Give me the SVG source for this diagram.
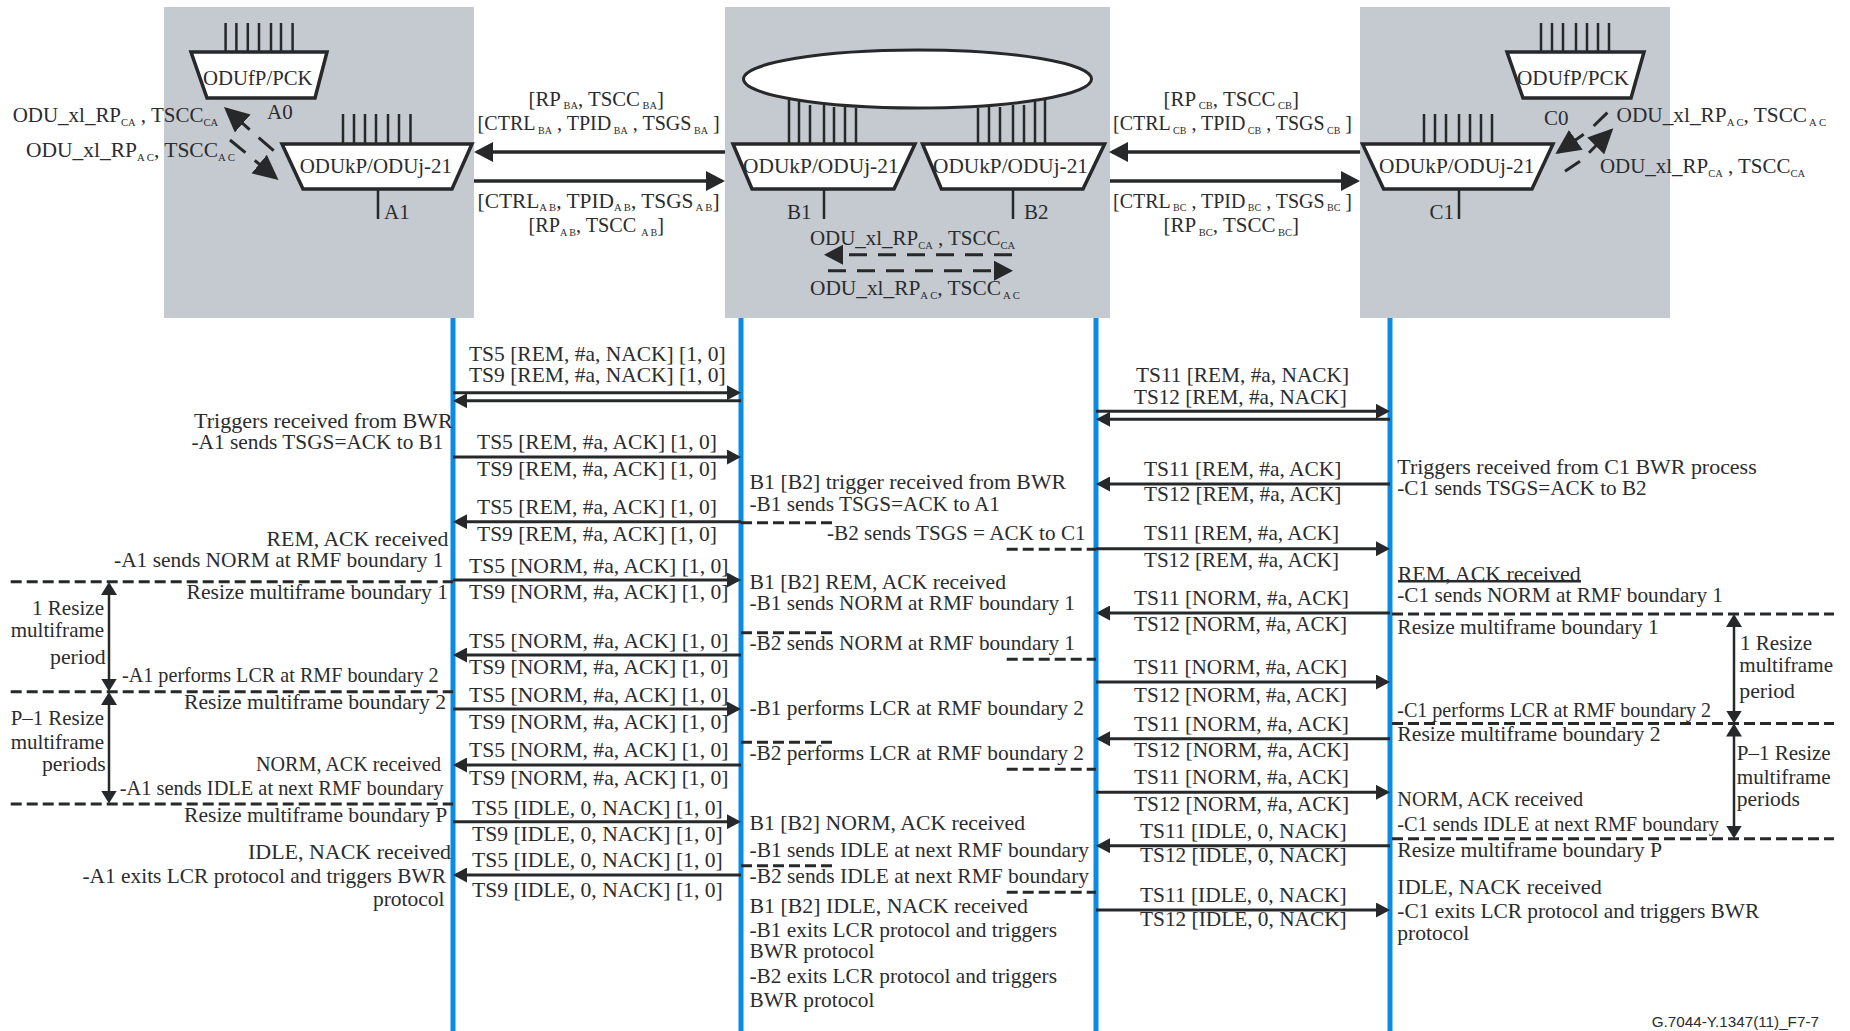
<svg xmlns="http://www.w3.org/2000/svg" width="1850" height="1031" viewBox="0 0 1850 1031">
<style>
text{font-family:"Liberation Serif","Times New Roman",serif;font-size:21px;fill:#2a2c2e}
text.t{font-size:22px}
tspan.s{font-size:10.500px}
.box{fill:#c5cad1}
.tz{fill:#fff;stroke:#26282a;stroke-width:3.5}
.pin{stroke:#26282a;stroke-width:2.5;fill:none}
.life{stroke:#0a8be4;stroke-width:5;fill:none}
.big{stroke:#26282a;stroke-width:3.5;fill:none;marker-end:url(#big)}
.sm{stroke:#26282a;stroke-width:3;fill:none;marker-end:url(#sm)}
.dash{stroke:#26282a;stroke-width:3;fill:none;stroke-dasharray:11 5}
.dbl{stroke:#26282a;stroke-width:2.5;fill:none;marker-start:url(#db);marker-end:url(#db)}
.dd{stroke:#26282a;stroke-width:3;fill:none;stroke-dasharray:18 11;marker-end:url(#big)}
.dg{stroke:#26282a;stroke-width:3;fill:none;stroke-dasharray:20 12;marker-end:url(#diag)}
.dgs{stroke:#26282a;stroke-width:3;fill:none;marker-end:url(#diag)}
.seg{stroke:#26282a;stroke-width:3;fill:none}
</style>
<defs>
<marker id="big" markerUnits="userSpaceOnUse" markerWidth="20" markerHeight="20" viewBox="0 0 19 20" refX="16" refY="10" orient="auto"><path d="M0 0L19 10L0 20Z" fill="#26282a"/></marker>
<marker id="diag" markerUnits="userSpaceOnUse" markerWidth="25" markerHeight="24" viewBox="0 0 25 24" refX="22" refY="12" orient="auto"><path d="M0 0L25 12L0 24Z" fill="#26282a"/></marker>
<marker id="sm" markerUnits="userSpaceOnUse" markerWidth="14" markerHeight="15" viewBox="0 0 14 15" refX="11" refY="7.5" orient="auto"><path d="M0 0L14 7.5L0 15Z" fill="#26282a"/></marker>
<marker id="db" markerUnits="userSpaceOnUse" markerWidth="13" markerHeight="16" viewBox="0 0 13 16" refX="10" refY="8" orient="auto-start-reverse"><path d="M0 0L13 8L0 16Z" fill="#26282a"/></marker>
</defs>

<g id="node-A">
<rect class="box" x="164" y="7" width="310" height="311"/>
<polygon class="tz" points="191,52 327,52 315,98 207,98"/>
<path class="pin" d="M225.6 23V52M236.4 23V52M247.8 23V52M259 23V52M271 23V52M281 23V52M292.6 23V52"/>
<polygon class="tz" points="282,144 472,144 452,189 303,189"/>
<path class="pin" d="M343 114V144M354 114V144M365 114V144M376 114V144M388 114V144M399 114V144M410.5 114V144M378 189V219"/>
<text class="t" x="203" y="85" textLength="109.500" lengthAdjust="spacingAndGlyphs">ODUfP/PCK</text>
<text x="267" y="119">A0</text>
<text class="t" x="299.700" y="172.700" textLength="152.300" lengthAdjust="spacingAndGlyphs">ODUkP/ODUj-21</text>
<text x="384" y="219">A1</text>
</g>

<g id="node-B">
<rect class="box" x="725" y="7" width="385" height="311"/>
<path class="pin" d="M789 100V144M799 100V144M810 105V144M824 105V144M834 107V144M845 107V144M856 108V144M978 108V144M989 107V144M1000 107V144M1013 105V144M1024 105V144M1035 100V144M1045 100V144"/>
<ellipse cx="917.500" cy="79" rx="174" ry="29" fill="#fff" stroke="#26282a" stroke-width="3"/>
<polygon class="tz" points="733,144 915,144 894,189 752,189"/>
<polygon class="tz" points="922.500,144 1104.600,144 1083,189 941.400,189"/>
<path class="pin" d="M824 189V219M1013 189V219"/>
<text class="t" x="743" y="172.700" textLength="155.600" lengthAdjust="spacingAndGlyphs">ODUkP/ODUj-21</text>
<text class="t" x="933" y="172.700" textLength="155" lengthAdjust="spacingAndGlyphs">ODUkP/ODUj-21</text>
<text x="787" y="219">B1</text>
<text x="1024" y="219">B2</text>
</g>

<g id="node-C">
<rect class="box" x="1360" y="7" width="310" height="311"/>
<polygon class="tz" points="1507,52 1644,52 1631,98 1523,98"/>
<path class="pin" d="M1541 23V52M1552 23V52M1563 23V52M1576 23V52M1587 23V52M1598 23V52M1609 23V52"/>
<polygon class="tz" points="1362.500,144 1553,144 1532,189 1383.600,189"/>
<path class="pin" d="M1424 114V144M1435 114V144M1446 114V144M1459 114V144M1470 114V144M1481 114V144M1492 114V144M1459 189V219"/>
<text class="t" x="1517" y="85" textLength="112" lengthAdjust="spacingAndGlyphs">ODUfP/PCK</text>
<text x="1544" y="125">C0</text>
<text class="t" x="1379" y="172.700" textLength="155.500" lengthAdjust="spacingAndGlyphs">ODUkP/ODUj-21</text>
<text x="1429.500" y="219">C1</text>
</g>

<g id="connectors">
<path class="life" d="M453 318V1031M741 318V1031M1096 318V1031M1390 318V1031"/>
<line class="big" x1="725" y1="152" x2="477" y2="152"/>
<line class="big" x1="474" y1="181" x2="722" y2="181"/>
<line class="big" x1="1360" y1="152" x2="1112" y2="152"/>
<line class="big" x1="1110" y1="181" x2="1357" y2="181"/>
<line class="dg" x1="273.700" y1="150.700" x2="226.200" y2="109"/>
<line class="dg" x1="230" y1="140" x2="276.200" y2="178"/>
<line class="seg" x1="1607.400" y1="112.700" x2="1593.700" y2="126"/>
<line class="dgs" x1="1583.700" y1="134.300" x2="1557.800" y2="152.400"/>
<line class="seg" x1="1565" y1="171.300" x2="1580" y2="161.300"/>
<line class="dgs" x1="1589" y1="152.700" x2="1611.200" y2="130.300"/>
<line class="dd" x1="1012" y1="254.700" x2="827" y2="254.700"/>
<line class="dd" x1="828" y1="270.700" x2="1010" y2="270.700"/>

<path class="sm" d="M453 392.700H738"/><path class="sm" d="M741 400.700H456"/>
<path class="sm" d="M453 457H738"/><path class="sm" d="M741 521.700H456"/>
<path class="sm" d="M453 580H738"/><path class="sm" d="M741 655H456"/>
<path class="sm" d="M453 709H738"/><path class="sm" d="M741 765H456"/>
<path class="sm" d="M453 821.700H738"/><path class="sm" d="M741 875H456"/>
<path class="sm" d="M1096 411.300H1387"/><path class="sm" d="M1390 419.300H1099"/>
<path class="sm" d="M1390 484H1099"/><path class="sm" d="M1096 548.700H1387"/>
<path class="sm" d="M1390 613H1099"/><path class="sm" d="M1096 682H1387"/>
<path class="sm" d="M1390 738.700H1099"/><path class="sm" d="M1096 792.300H1387"/>
<path class="sm" d="M1390 845.700H1099"/><path class="sm" d="M1096 910H1387"/>

<path class="dash" d="M10.700 581.700H453M10.700 691.700H453M10.700 804H453"/>
<path class="dash" d="M741 522.700H834M741 632.700H834M741 742.300H834M741 865.700H834"/>
<path class="dash" d="M1006.700 549.300H1096M1006.700 659.300H1096M1006.700 769.300H1096M1006.700 892.300H1096"/>
<path class="dash" d="M1392 614H1834M1392 723.500H1834M1392 838.800H1834"/>
<line class="dbl" x1="109" y1="585" x2="109" y2="688.500"/>
<line class="dbl" x1="109" y1="695" x2="109" y2="800.500"/>
<line class="dbl" x1="1734" y1="617" x2="1734" y2="720.500"/>
<line class="dbl" x1="1734" y1="726.500" x2="1734" y2="835.500"/>
<path d="M1398 581.300H1581" stroke="#26282a" stroke-width="2.500" fill="none"/>
</g>

<g id="labels">
<text x="12.700" y="122" textLength="205.300" lengthAdjust="spacingAndGlyphs">ODU_xl_RP<tspan class="s" dy="4">CA</tspan><tspan dy="-4"> , TSCC</tspan><tspan class="s" dy="4">CA</tspan></text>
<text x="26" y="157" textLength="209" lengthAdjust="spacingAndGlyphs">ODU_xl_RP<tspan class="s" dy="4">A C</tspan><tspan dy="-4">, TSCC</tspan><tspan class="s" dy="4">A C</tspan></text>
<text x="528.500" y="106" textLength="135.500" lengthAdjust="spacingAndGlyphs">[RP<tspan class="s" dy="3"> BA</tspan><tspan dy="-3">, TSCC</tspan><tspan class="s" dy="3"> BA</tspan><tspan dy="-3">]</tspan></text>
<text x="477.600" y="130" textLength="242" lengthAdjust="spacingAndGlyphs">[CTRL<tspan class="s" dy="4"> BA</tspan><tspan dy="-4"> , TPID</tspan><tspan class="s" dy="4"> BA</tspan><tspan dy="-4"> , TSGS</tspan><tspan class="s" dy="4"> BA</tspan><tspan dy="-4"> ]</tspan></text>
<text x="477.600" y="208" textLength="242" lengthAdjust="spacingAndGlyphs">[CTRL<tspan class="s" dy="3">A B</tspan><tspan dy="-3">, TPID</tspan><tspan class="s" dy="3">A B</tspan><tspan dy="-3">, TSGS</tspan><tspan class="s" dy="3"> A B</tspan><tspan dy="-3">]</tspan></text>
<text x="528.500" y="231.500" textLength="135.500" lengthAdjust="spacingAndGlyphs">[RP<tspan class="s" dy="4">A B</tspan><tspan dy="-4">, TSCC </tspan><tspan class="s" dy="4">A B</tspan><tspan dy="-4">]</tspan></text>
<text x="810" y="245" textLength="205" lengthAdjust="spacingAndGlyphs">ODU_xl_RP<tspan class="s" dy="4">CA</tspan><tspan dy="-4"> , TSCC</tspan><tspan class="s" dy="4">CA</tspan></text>
<text x="810" y="294.700" textLength="210" lengthAdjust="spacingAndGlyphs">ODU_xl_RP<tspan class="s" dy="4">A C</tspan><tspan dy="-4">, TSCC</tspan><tspan class="s" dy="4"> A C</tspan></text>
<text x="1163.600" y="106" textLength="135.400" lengthAdjust="spacingAndGlyphs">[RP<tspan class="s" dy="3"> CB</tspan><tspan dy="-3">, TSCC</tspan><tspan class="s" dy="3"> CB</tspan><tspan dy="-3">]</tspan></text>
<text x="1113" y="130" textLength="239" lengthAdjust="spacingAndGlyphs">[CTRL<tspan class="s" dy="4"> CB</tspan><tspan dy="-4"> , TPID</tspan><tspan class="s" dy="4"> CB</tspan><tspan dy="-4"> , TSGS</tspan><tspan class="s" dy="4"> CB</tspan><tspan dy="-4"> ]</tspan></text>
<text x="1113" y="208" textLength="239" lengthAdjust="spacingAndGlyphs">[CTRL<tspan class="s" dy="3"> BC</tspan><tspan dy="-3"> , TPID</tspan><tspan class="s" dy="3"> BC</tspan><tspan dy="-3"> , TSGS</tspan><tspan class="s" dy="3"> BC</tspan><tspan dy="-3"> ]</tspan></text>
<text x="1163.600" y="231.500" textLength="135.400" lengthAdjust="spacingAndGlyphs">[RP<tspan class="s" dy="4"> BC</tspan><tspan dy="-4">, TSCC</tspan><tspan class="s" dy="4"> BC</tspan><tspan dy="-4">]</tspan></text>
<text x="1616.600" y="122" textLength="209.400" lengthAdjust="spacingAndGlyphs">ODU_xl_RP<tspan class="s" dy="4">A C</tspan><tspan dy="-4">, TSCC</tspan><tspan class="s" dy="4"> A C</tspan></text>
<text x="1600" y="173" textLength="205" lengthAdjust="spacingAndGlyphs">ODU_xl_RP<tspan class="s" dy="4">CA</tspan><tspan dy="-4"> , TSCC</tspan><tspan class="s" dy="4">CA</tspan></text>

<text x="469" y="361" textLength="256.600" lengthAdjust="spacingAndGlyphs">TS5 [REM, #a, NACK] [1, 0]</text>
<text x="469" y="382" textLength="256.600" lengthAdjust="spacingAndGlyphs">TS9 [REM, #a, NACK] [1, 0]</text>
<text x="477" y="449" textLength="240" lengthAdjust="spacingAndGlyphs">TS5 [REM, #a, ACK] [1, 0]</text>
<text x="477" y="476" textLength="240" lengthAdjust="spacingAndGlyphs">TS9 [REM, #a, ACK] [1, 0]</text>
<text x="477" y="514" textLength="240" lengthAdjust="spacingAndGlyphs">TS5 [REM, #a, ACK] [1, 0]</text>
<text x="477" y="540.700" textLength="240" lengthAdjust="spacingAndGlyphs">TS9 [REM, #a, ACK] [1, 0]</text>
<text x="469" y="573" textLength="259.500" lengthAdjust="spacingAndGlyphs">TS5 [NORM, #a, ACK] [1, 0]</text>
<text x="469" y="599" textLength="259.500" lengthAdjust="spacingAndGlyphs">TS9 [NORM, #a, ACK] [1, 0]</text>
<text x="469" y="648" textLength="259.500" lengthAdjust="spacingAndGlyphs">TS5 [NORM, #a, ACK] [1, 0]</text>
<text x="469" y="674" textLength="259.500" lengthAdjust="spacingAndGlyphs">TS9 [NORM, #a, ACK] [1, 0]</text>
<text x="469" y="701.500" textLength="259.500" lengthAdjust="spacingAndGlyphs">TS5 [NORM, #a, ACK] [1, 0]</text>
<text x="469" y="729" textLength="259.500" lengthAdjust="spacingAndGlyphs">TS9 [NORM, #a, ACK] [1, 0]</text>
<text x="469" y="757" textLength="259.500" lengthAdjust="spacingAndGlyphs">TS5 [NORM, #a, ACK] [1, 0]</text>
<text x="469" y="784.700" textLength="259.500" lengthAdjust="spacingAndGlyphs">TS9 [NORM, #a, ACK] [1, 0]</text>
<text x="472" y="814.700" textLength="250.700" lengthAdjust="spacingAndGlyphs">TS5 [IDLE, 0, NACK] [1, 0]</text>
<text x="472" y="841" textLength="250.700" lengthAdjust="spacingAndGlyphs">TS9 [IDLE, 0, NACK] [1, 0]</text>
<text x="472" y="867" textLength="250.700" lengthAdjust="spacingAndGlyphs">TS5 [IDLE, 0, NACK] [1, 0]</text>
<text x="472" y="897" textLength="250.700" lengthAdjust="spacingAndGlyphs">TS9 [IDLE, 0, NACK] [1, 0]</text>

<text x="1136" y="382" textLength="213" lengthAdjust="spacingAndGlyphs">TS11 [REM, #a, NACK]</text>
<text x="1134" y="404" textLength="212.700" lengthAdjust="spacingAndGlyphs">TS12 [REM, #a, NACK]</text>
<text x="1144" y="476" textLength="197.400" lengthAdjust="spacingAndGlyphs">TS11 [REM, #a, ACK]</text>
<text x="1144" y="500.700" textLength="197.400" lengthAdjust="spacingAndGlyphs">TS12 [REM, #a, ACK]</text>
<text x="1144" y="540" textLength="195" lengthAdjust="spacingAndGlyphs">TS11 [REM, #a, ACK]</text>
<text x="1144" y="566.700" textLength="195" lengthAdjust="spacingAndGlyphs">TS12 [REM, #a, ACK]</text>
<text x="1134" y="605" textLength="215" lengthAdjust="spacingAndGlyphs">TS11 [NORM, #a, ACK]</text>
<text x="1134" y="631.300" textLength="213" lengthAdjust="spacingAndGlyphs">TS12 [NORM, #a, ACK]</text>
<text x="1134" y="674" textLength="213" lengthAdjust="spacingAndGlyphs">TS11 [NORM, #a, ACK]</text>
<text x="1134" y="701.700" textLength="213" lengthAdjust="spacingAndGlyphs">TS12 [NORM, #a, ACK]</text>
<text x="1134" y="731" textLength="215" lengthAdjust="spacingAndGlyphs">TS11 [NORM, #a, ACK]</text>
<text x="1134" y="757" textLength="215" lengthAdjust="spacingAndGlyphs">TS12 [NORM, #a, ACK]</text>
<text x="1134" y="784" textLength="215" lengthAdjust="spacingAndGlyphs">TS11 [NORM, #a, ACK]</text>
<text x="1134" y="811.300" textLength="215" lengthAdjust="spacingAndGlyphs">TS12 [NORM, #a, ACK]</text>
<text x="1140" y="838" textLength="206.700" lengthAdjust="spacingAndGlyphs">TS11 [IDLE, 0, NACK]</text>
<text x="1140" y="862.300" textLength="206.700" lengthAdjust="spacingAndGlyphs">TS12 [IDLE, 0, NACK]</text>
<text x="1140" y="902" textLength="206.700" lengthAdjust="spacingAndGlyphs">TS11 [IDLE, 0, NACK]</text>
<text x="1140" y="926" textLength="206.700" lengthAdjust="spacingAndGlyphs">TS12 [IDLE, 0, NACK]</text>

<text x="194" y="428" textLength="258.700" lengthAdjust="spacingAndGlyphs">Triggers received from BWR</text>
<text x="191.500" y="449" textLength="252" lengthAdjust="spacingAndGlyphs">-A1 sends TSGS=ACK to B1</text>
<text x="266.600" y="546" textLength="181.800" lengthAdjust="spacingAndGlyphs">REM, ACK received</text>
<text x="114" y="566.700" textLength="329.500" lengthAdjust="spacingAndGlyphs">-A1 sends NORM at RMF boundary 1</text>
<text x="186.600" y="598.700" textLength="261.400" lengthAdjust="spacingAndGlyphs">Resize multiframe boundary 1</text>
<text x="32" y="615" textLength="72" lengthAdjust="spacingAndGlyphs">1 Resize</text>
<text x="10.700" y="636.700" textLength="93.500" lengthAdjust="spacingAndGlyphs">multiframe</text>
<text x="50" y="664" textLength="55.700" lengthAdjust="spacingAndGlyphs">period</text>
<text x="122" y="682" textLength="316.700" lengthAdjust="spacingAndGlyphs">-A1 performs LCR at RMF boundary 2</text>
<text x="184" y="709" textLength="262" lengthAdjust="spacingAndGlyphs">Resize multiframe boundary 2</text>
<text x="10.700" y="724.700" textLength="93.300" lengthAdjust="spacingAndGlyphs">P–1 Resize</text>
<text x="10.700" y="749" textLength="93.500" lengthAdjust="spacingAndGlyphs">multiframe</text>
<text x="42" y="770.700" textLength="63.700" lengthAdjust="spacingAndGlyphs">periods</text>
<text x="256" y="771" textLength="185" lengthAdjust="spacingAndGlyphs">NORM, ACK received</text>
<text x="119.700" y="795" textLength="323.800" lengthAdjust="spacingAndGlyphs">-A1 sends IDLE at next RMF boundary</text>
<text x="184" y="822" textLength="263.400" lengthAdjust="spacingAndGlyphs">Resize multiframe boundary P</text>
<text x="248" y="859" textLength="203" lengthAdjust="spacingAndGlyphs">IDLE, NACK received</text>
<text x="82.400" y="883" textLength="363.600" lengthAdjust="spacingAndGlyphs">-A1 exits LCR protocol and triggers BWR</text>
<text x="373" y="905.700" textLength="71.500" lengthAdjust="spacingAndGlyphs">protocol</text>

<text x="749.500" y="489" textLength="316.500" lengthAdjust="spacingAndGlyphs">B1 [B2] trigger received from BWR</text>
<text x="749.500" y="510.700" textLength="250.500" lengthAdjust="spacingAndGlyphs">-B1 sends TSGS=ACK to A1</text>
<text x="827" y="540" textLength="258.600" lengthAdjust="spacingAndGlyphs">-B2 sends TSGS = ACK to C1</text>
<text x="749.500" y="589" textLength="256.500" lengthAdjust="spacingAndGlyphs">B1 [B2] REM, ACK received</text>
<text x="749.500" y="610" textLength="325.500" lengthAdjust="spacingAndGlyphs">-B1 sends NORM at RMF boundary 1</text>
<text x="749.500" y="650" textLength="325.500" lengthAdjust="spacingAndGlyphs">-B2 sends NORM at RMF boundary 1</text>
<text x="749.500" y="715" textLength="334.500" lengthAdjust="spacingAndGlyphs">-B1 performs LCR at RMF boundary 2</text>
<text x="749.500" y="760" textLength="334.500" lengthAdjust="spacingAndGlyphs">-B2 performs LCR at RMF boundary 2</text>
<text x="749.500" y="830" textLength="275.500" lengthAdjust="spacingAndGlyphs">B1 [B2] NORM, ACK received</text>
<text x="749.500" y="857" textLength="339.500" lengthAdjust="spacingAndGlyphs">-B1 sends IDLE at next RMF boundary</text>
<text x="749.500" y="883" textLength="339.500" lengthAdjust="spacingAndGlyphs">-B2 sends IDLE at next RMF boundary</text>
<text x="749.500" y="912.700" textLength="278.500" lengthAdjust="spacingAndGlyphs">B1 [B2] IDLE, NACK received</text>
<text x="749.500" y="937" textLength="307.500" lengthAdjust="spacingAndGlyphs">-B1 exits LCR protocol and triggers</text>
<text x="749.500" y="958" textLength="124.900" lengthAdjust="spacingAndGlyphs">BWR protocol</text>
<text x="749.500" y="983" textLength="307.500" lengthAdjust="spacingAndGlyphs">-B2 exits LCR protocol and triggers</text>
<text x="749.500" y="1007" textLength="124.900" lengthAdjust="spacingAndGlyphs">BWR protocol</text>

<text x="1397.300" y="473.500" textLength="359.400" lengthAdjust="spacingAndGlyphs">Triggers received from C1 BWR process</text>
<text x="1397.300" y="495" textLength="249.400" lengthAdjust="spacingAndGlyphs">-C1 sends TSGS=ACK to B2</text>
<text x="1397.700" y="581.300" textLength="183" lengthAdjust="spacingAndGlyphs">REM, ACK received</text>
<text x="1397.300" y="602" textLength="325.700" lengthAdjust="spacingAndGlyphs">-C1 sends NORM at RMF boundary 1</text>
<text x="1397.300" y="634" textLength="261.400" lengthAdjust="spacingAndGlyphs">Resize multiframe boundary 1</text>
<text x="1740" y="650.300" textLength="72" lengthAdjust="spacingAndGlyphs">1 Resize</text>
<text x="1739.300" y="671.800" textLength="93.700" lengthAdjust="spacingAndGlyphs">multiframe</text>
<text x="1739.300" y="698" textLength="55.700" lengthAdjust="spacingAndGlyphs">period</text>
<text x="1397.300" y="717" textLength="313.700" lengthAdjust="spacingAndGlyphs">-C1 performs LCR at RMF boundary 2</text>
<text x="1397.300" y="740.800" textLength="263.400" lengthAdjust="spacingAndGlyphs">Resize multiframe boundary 2</text>
<text x="1736.700" y="760.400" textLength="94" lengthAdjust="spacingAndGlyphs">P–1 Resize</text>
<text x="1736.700" y="784" textLength="94" lengthAdjust="spacingAndGlyphs">multiframe</text>
<text x="1736.700" y="806.400" textLength="63.300" lengthAdjust="spacingAndGlyphs">periods</text>
<text x="1397.300" y="806.400" textLength="185.700" lengthAdjust="spacingAndGlyphs">NORM, ACK received</text>
<text x="1397.300" y="830.500" textLength="321.700" lengthAdjust="spacingAndGlyphs">-C1 sends IDLE at next RMF boundary</text>
<text x="1397.300" y="857" textLength="264.700" lengthAdjust="spacingAndGlyphs">Resize multiframe boundary P</text>
<text x="1397.300" y="894" textLength="204.400" lengthAdjust="spacingAndGlyphs">IDLE, NACK received</text>
<text x="1397.300" y="918" textLength="362" lengthAdjust="spacingAndGlyphs">-C1 exits LCR protocol and triggers BWR</text>
<text x="1397.300" y="940" textLength="72" lengthAdjust="spacingAndGlyphs">protocol</text>
<text x="1651.700" y="1027" textLength="167.300" lengthAdjust="spacingAndGlyphs" style="font-family:'Liberation Sans',Arial,sans-serif;font-size:15px">G.7044-Y.1347(11)_F7-7</text>
</g>
</svg>
